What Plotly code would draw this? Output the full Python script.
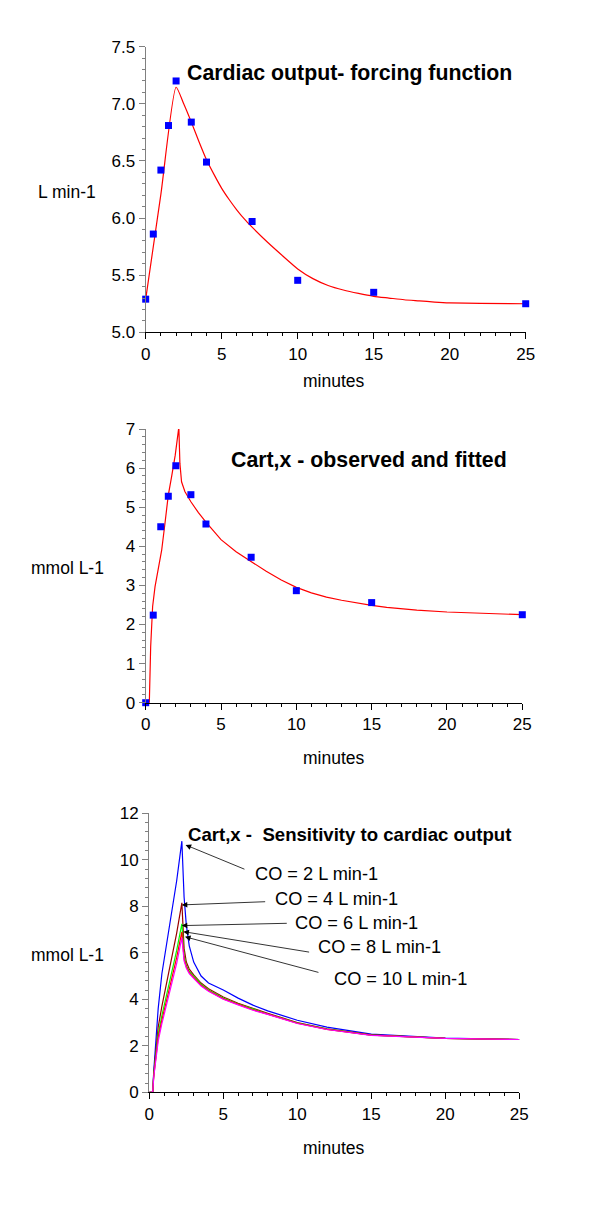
import plotly.graph_objects as go

FONT = "Arial, Liberation Sans, Helvetica, sans-serif"

# ---------- Panel 1: cardiac output ----------
co_obs_t = [0, 0.5, 1, 1.5, 2, 3, 4, 7, 10, 15, 25]
co_obs = [5.29, 5.86, 6.42, 6.81, 7.20, 6.84, 6.49, 5.97, 5.455, 5.35, 5.25]
co_fit_t = [0, 1, 2, 2.5, 3, 3.5, 4, 4.5, 5, 5.5, 6, 6.5, 7, 8, 9, 10, 11, 12, 13, 14, 15, 16, 17, 18, 19, 20, 22, 25]
co_fit = [5.29, 6.21, 7.145, 7.0, 6.84, 6.67, 6.51, 6.38, 6.26, 6.16, 6.07, 5.99, 5.92, 5.79, 5.67, 5.555,
          5.47, 5.41, 5.37, 5.34, 5.315, 5.30, 5.285, 5.275, 5.265, 5.258, 5.253, 5.25]

# ---------- Panel 2: Cart,x observed and fitted ----------
cx_obs_t = [0, 0.5, 1, 1.5, 2, 3, 4, 7, 10, 15, 25]
cx_obs = [0.0, 2.24, 4.50, 5.28, 6.06, 5.32, 4.57, 3.72, 2.865, 2.56, 2.25]
cx_fit_t = [0, 0.24, 0.33, 0.46, 0.62, 0.84, 1.06, 1.28, 1.5, 1.72, 1.96, 2.2, 2.27, 2.38, 2.6, 3.0,
            3.5, 4, 4.5, 5, 6, 7, 8, 9, 10, 11, 12, 13, 14, 15, 16, 18, 20, 22, 25]
cx_fit = [0, 0, 1.43, 2.46, 2.97, 3.39, 3.9, 4.59, 5.31, 5.78, 6.33, 7.05, 6.12, 5.65, 5.4, 5.14,
          4.86, 4.62, 4.38, 4.17, 3.86, 3.60, 3.36, 3.14, 2.95, 2.81, 2.70, 2.62, 2.55, 2.49, 2.44, 2.37, 2.32, 2.285, 2.25]

# ---------- Panel 3: sensitivity to cardiac output ----------
sens_labels = ["CO = 2 L min-1", "CO = 4 L min-1", "CO = 6 L min-1", "CO = 8 L min-1", "CO = 10 L min-1"]
sens_colors = ["#0000FF", "#990000", "#00FF00", "#FF0000", "#FF00FF"]
sens_t = [0, 0.23, 0.3, 0.4, 0.6, 0.85, 1.2, 1.5, 1.85, 2.2, 2.35, 2.5, 2.7, 3.0, 3.5, 4, 5, 6, 7, 8, 10, 12, 15, 20, 25]
sens_y = [
    [0, 0, 0.9, 1.9, 3.6, 5.1, 6.6, 7.7, 9.1, 10.8, 8.4, 7.2, 6.3, 5.6, 5.0, 4.7, 4.4, 4.05, 3.75, 3.5, 3.1, 2.8, 2.5, 2.33, 2.27],
    [0, 0, 0.8, 1.6, 2.8, 3.7, 4.75, 5.7, 6.85, 8.15, 6.2, 5.6, 5.3, 5.05, 4.7, 4.45, 4.1, 3.83, 3.6, 3.4, 3.0, 2.73, 2.47, 2.32, 2.27],
    [0, 0, 0.75, 1.45, 2.5, 3.3, 4.3, 5.1, 6.1, 7.25, 5.9, 5.45, 5.2, 5.0, 4.65, 4.4, 4.05, 3.8, 3.57, 3.37, 2.98, 2.72, 2.46, 2.32, 2.27],
    [0, 0, 0.7, 1.35, 2.35, 3.1, 4.1, 4.85, 5.8, 6.9, 5.75, 5.4, 5.15, 4.95, 4.6, 4.37, 4.02, 3.78, 3.55, 3.36, 2.97, 2.71, 2.46, 2.32, 2.27],
    [0, 0, 0.65, 1.25, 2.2, 2.95, 3.9, 4.65, 5.55, 6.65, 5.65, 5.35, 5.1, 4.9, 4.57, 4.35, 4.0, 3.76, 3.53, 3.35, 2.96, 2.70, 2.45, 2.32, 2.27],
]
# arrow heads (curve peaks), arrow tails and label anchor positions in data units
arrow_head = [(2.45, 10.64), (2.19, 8.06), (2.19, 7.17), (2.3, 6.91), (2.41, 6.69)]
arrow_tail = [(6.53, 9.57), (7.93, 8.2), (9.39, 7.27), (10.9, 6.02), (11.53, 5.14)]
label_pos = [(7.0, 9.39), (8.36, 8.32), (9.71, 7.28), (11.26, 6.25), (12.34, 4.86)]

W, H = 600, 1225
OFF = 8  # page body margin of the html page


def px(x):
    return (x - OFF) / W


def py(y):
    return 1 - (y - OFF) / H


fig = go.Figure()

fig.add_trace(go.Scatter(x=co_fit_t, y=co_fit, mode="lines", line=dict(color="#FF0000", width=1.2, shape="spline", smoothing=0.6),
                         xaxis="x", yaxis="y", showlegend=False))
fig.add_trace(go.Scatter(x=co_obs_t, y=co_obs, mode="markers",
                         marker=dict(symbol="square", size=7, color="#0000FF"),
                         xaxis="x", yaxis="y", showlegend=False, cliponaxis=False))
fig.add_trace(go.Scatter(x=cx_fit_t, y=cx_fit, mode="lines", line=dict(color="#FF0000", width=1.2),
                         xaxis="x2", yaxis="y2", showlegend=False))
fig.add_trace(go.Scatter(x=cx_obs_t, y=cx_obs, mode="markers",
                         marker=dict(symbol="square", size=7, color="#0000FF"),
                         xaxis="x2", yaxis="y2", showlegend=False, cliponaxis=False))
for lab, col, ys in zip(sens_labels, sens_colors, sens_y):
    fig.add_trace(go.Scatter(x=sens_t, y=ys, mode="lines", name=lab, line=dict(color=col, width=1.2),
                             xaxis="x3", yaxis="y3", showlegend=False))

panels = [
    # (left, right, top, bottom pixel box), yrange, ydtick, yminor, tickformat
    ((145.7, 525.7, 46.7, 332.3), [5.0, 7.5], 0.5, 0.1, ".1f"),
    ((145.7, 522.3, 429.0, 702.7), [0, 7], 1, 0.2, "d"),
    ((149.3, 519.3, 813.3, 1092.3), [0, 12], 2, 0.4, "d"),
]

HCOL = "#000000"
VCOL = "#808080"
tickfont = dict(family=FONT, size=17, color="#000000")

layout = dict(
    width=W, height=H,
    margin=dict(l=0, r=0, t=0, b=0, autoexpand=False),
    paper_bgcolor="white", plot_bgcolor="white",
    font=dict(family=FONT, size=17, color="#000000"),
    showlegend=False,
)

for i, ((l, r, t, b), yr, ydt, ymin, tf) in enumerate(panels):
    n = i + 1
    s = "" if n == 1 else str(n)
    o = str(n + 3)
    xd = [px(l), px(r)]
    yd = [py(b), py(t)]
    layout["xaxis" + s] = dict(
        domain=xd, anchor="y" + s, range=[0, 25], dtick=5, tick0=0, automargin=False,
        showgrid=False, zeroline=False, showline=True, linecolor=HCOL, linewidth=1.3,
        ticks="outside", ticklen=6, tickwidth=1, tickcolor=HCOL, tickfont=tickfont,
        minor=dict(dtick=1, ticks="outside", ticklen=3, tickcolor=HCOL, tickwidth=1),
        fixedrange=True,
    )
    layout["yaxis" + s] = dict(
        domain=yd, anchor="x" + s, range=yr, dtick=ydt, tick0=0, tickformat=tf, automargin=False,
        showgrid=False, zeroline=False, showline=True, linecolor=VCOL, linewidth=1.3,
        ticks="outside", ticklen=6, tickwidth=1, tickcolor=VCOL, tickfont=tickfont,
        minor=dict(dtick=ymin, ticks="outside", ticklen=3, tickcolor=VCOL, tickwidth=1),
        fixedrange=True,
    )
    # top / right frame with inward ticks
    layout["xaxis" + o] = dict(
        overlaying="x" + s, side="top", anchor="y" + s, range=[0, 25], dtick=5, tick0=0, automargin=False,
        showgrid=False, zeroline=False, showline=True, linecolor=HCOL, linewidth=1.3,
        ticks="inside", ticklen=6, tickwidth=1, tickcolor=HCOL, showticklabels=False,
        minor=dict(dtick=1, ticks="inside", ticklen=3, tickcolor=HCOL, tickwidth=1),
        fixedrange=True,
    )
    layout["yaxis" + o] = dict(
        overlaying="y" + s, side="right", anchor="x" + s, range=yr, dtick=ydt, tick0=0, automargin=False,
        showgrid=False, zeroline=False, showline=True, linecolor=VCOL, linewidth=1.3,
        ticks="inside", ticklen=6, tickwidth=1, tickcolor=VCOL, showticklabels=False,
        minor=dict(dtick=ymin, ticks="inside", ticklen=3, tickcolor=VCOL, tickwidth=1),
        fixedrange=True,
    )

fig.update_layout(**layout)

ann = []
# x-axis titles
for ypix in [381, 758, 1148]:
    ann.append(dict(text="minutes", xref="paper", yref="paper", x=px(334), y=py(ypix),
                    xanchor="center", yanchor="middle", showarrow=False, font=dict(family=FONT, size=17.5)))
# y-axis titles
for txt, ypix in [("L min-1", 192), ("mmol L-1", 568), ("mmol L-1", 955)]:
    ann.append(dict(text=txt, xref="paper", yref="paper", x=px(67), y=py(ypix),
                    xanchor="center", yanchor="middle", showarrow=False, font=dict(family=FONT, size=17.5)))
# panel titles
ann.append(dict(text="<b>Cardiac output- forcing function</b>", xref="x", yref="y", x=24.2, y=7.27,
                xanchor="right", yanchor="middle", showarrow=False, font=dict(family=FONT, size=21.3)))
ann.append(dict(text="<b>Cart,x - observed and fitted</b>", xref="x2", yref="y2", x=24.1, y=6.21,
                xanchor="right", yanchor="middle", showarrow=False, font=dict(family=FONT, size=21.3)))
ann.append(dict(text="<b>Cart,x -  Sensitivity to cardiac output</b>", xref="x3", yref="y3", x=24.57, y=11.07,
                xanchor="right", yanchor="middle", showarrow=False, font=dict(family=FONT, size=18.6)))
# CO labels and arrows
for lab, (lx, ly), (hx, hy), (tx, ty) in zip(sens_labels, label_pos, arrow_head, arrow_tail):
    ann.append(dict(text=lab, xref="x3", yref="y3", x=lx, y=ly, xanchor="left", yanchor="middle",
                    showarrow=False, font=dict(family=FONT, size=18.2)))
    ann.append(dict(text="", xref="x3", yref="y3", x=hx, y=hy, axref="x3", ayref="y3", ax=tx, ay=ty,
                    showarrow=True, arrowhead=2, arrowsize=1.4, arrowwidth=0.8, arrowcolor="#000000",
                    standoff=0, startstandoff=0))
fig.update_layout(annotations=ann)

fig.write_html("out.html")
